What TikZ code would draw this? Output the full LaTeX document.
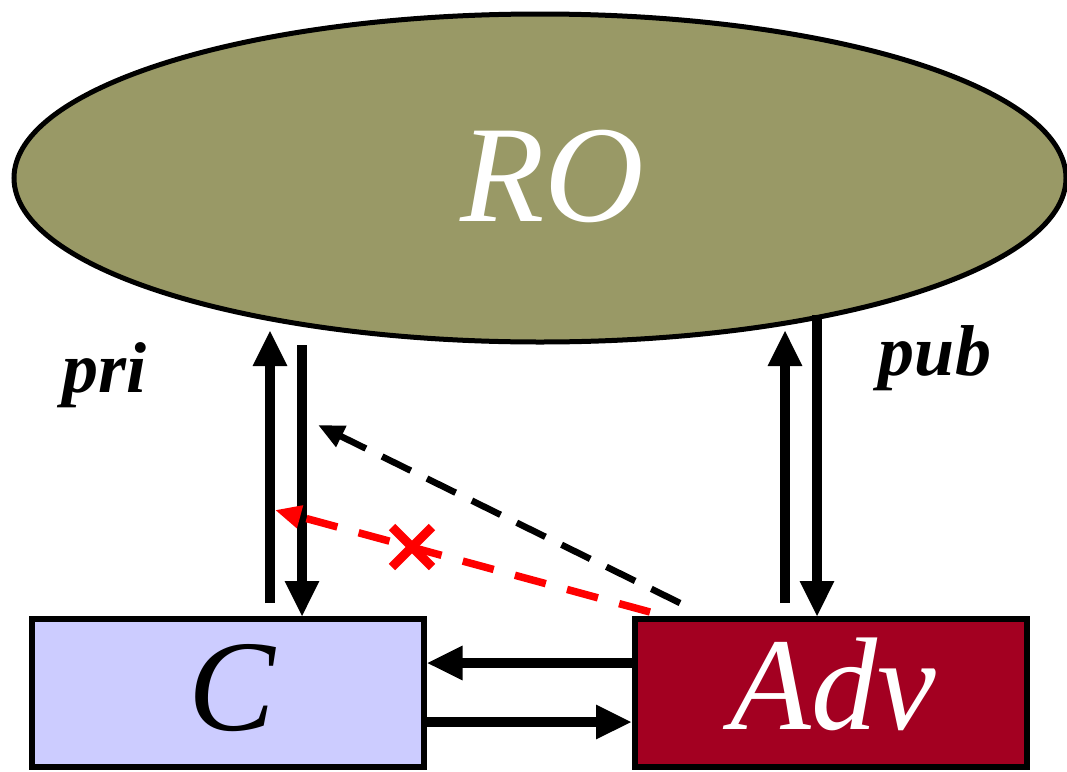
\documentclass[tikz,border=0pt]{standalone}
\usepackage{fontspec}
\setmainfont{Liberation Serif}
\usetikzlibrary{arrows.meta,shapes.geometric,calc}
\definecolor{olive}{HTML}{999966}
\definecolor{lav}{HTML}{CCCCFF}
\definecolor{advred}{HTML}{A30021}
\begin{document}
\begin{tikzpicture}[x=1pt,y=-1pt,
  bigarrow/.style={line width=10pt,-{Triangle[width=32pt,length=36pt]}},
  dasharrow/.style={line width=6.5pt,dash pattern=on 32pt off 18pt,-{Triangle[width=22pt,length=26pt]}},
  box/.style={draw=black,line width=6pt,minimum width=392pt,minimum height=148pt,inner sep=0pt},
  lbl/.style={font=\fontsize{72}{74}\selectfont\bfseries\itshape}]
\useasboundingbox (0,0) rectangle (1067,771);
\node[ellipse,draw=black,line width=5pt,fill=olive,minimum width=1052pt,minimum height=328pt,inner sep=0pt] (RO) at (540,178) {};
\node[text=white,font=\fontsize{138}{138}\selectfont\itshape] (ROt) at (552,176) {RO};
\node[box,fill=lav] (C) at (227.5,692.5) {};
\node[font=\fontsize{130}{130}\selectfont\itshape] (Ct) at (232,688) {C};
\node[box,fill=advred] (Adv) at (831,692.5) {};
\node[text=white,font=\fontsize{132}{132}\selectfont\itshape] (Advt) at (833,684) {Adv};
\node[lbl] (pri) at (105,375) {pri};
\node[lbl] (pub) at (935,358) {pub};
% vertical connectors
\coordinate (c1) at (270,603); \coordinate (r1) at (270,330);
\coordinate (r2) at (302,345); \coordinate (c2) at (302,617);
\coordinate (a1) at (785,603); \coordinate (r3) at (785,330);
\coordinate (r4) at (817,315); \coordinate (a2) at (817,617);
\draw[bigarrow] (c1) -- (r1);
\draw[bigarrow] (r2) -- (c2);
\draw[bigarrow] (a1) -- (r3);
\draw[bigarrow] (r4) -- (a2);
% horizontal connectors
\draw[bigarrow] (Adv.west |- 0,663) -- (C.east |- 0,663);
\draw[bigarrow] (C.east |- 0,722) -- (Adv.west |- 0,722);
% dashed
\coordinate (d1) at (680,603); \coordinate (d2) at (318,425);
\draw[dasharrow,black] (d1) -- (d2);
\coordinate (e1) at (650,612); \coordinate (e2) at (275,510);
\draw[dasharrow,red,line width=7.5pt,dash pattern=on 32pt off 22pt] (e1) -- (e2);
\coordinate (X) at (412,547);
\draw[red,line width=9pt] ($(X)+(-20,-20)$) -- ($(X)+(20,20)$) ($(X)+(-20,20)$) -- ($(X)+(20,-20)$);
\end{tikzpicture}
\end{document}
